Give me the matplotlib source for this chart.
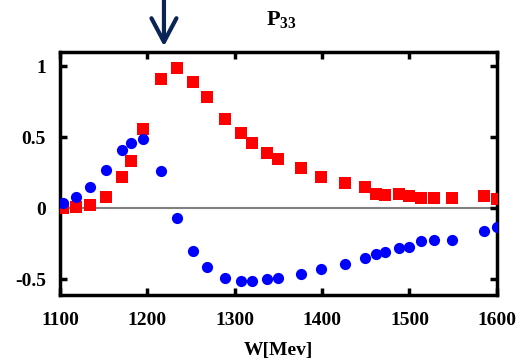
import matplotlib
matplotlib.use("Agg")
import matplotlib.pyplot as plt

W = [1103, 1118, 1134, 1153, 1171, 1181, 1195, 1216, 1234, 1252, 1268, 1289, 1307, 1320,
     1337, 1350, 1376, 1399, 1426, 1449, 1462, 1472, 1488, 1500, 1513, 1528, 1549, 1585, 1600]
red_vals = [0.00, 0.01, 0.02, 0.08, 0.22, 0.33, 0.56, 0.91, 0.99, 0.89, 0.78, 0.63, 0.53, 0.46,
            0.39, 0.35, 0.28, 0.22, 0.18, 0.15, 0.10, 0.095, 0.10, 0.085, 0.07, 0.075, 0.07, 0.085, 0.065]
blue_vals = [0.04, 0.08, 0.15, 0.27, 0.41, 0.46, 0.49, 0.26, -0.07, -0.30, -0.41, -0.49, -0.51, -0.51,
             -0.50, -0.49, -0.46, -0.43, -0.39, -0.35, -0.32, -0.31, -0.28, -0.27, -0.23, -0.22, -0.22, -0.16, -0.13]
xticks = [1100, 1200, 1300, 1400, 1500, 1600]
yticks = [-0.5, 0, 0.5, 1]
ytick_labels = ["-0.5", "0", "0.5", "1"]
arrow_W = 1219

plt.rcParams['font.family'] = ['Liberation Serif', 'DejaVu Serif']
plt.rcParams['mathtext.fontset'] = 'custom'
plt.rcParams['mathtext.rm'] = 'Liberation Serif:bold'
plt.rcParams['mathtext.bf'] = 'Liberation Serif:bold'

fig = plt.figure(figsize=(5.28, 3.61), dpi=100)
ax = fig.add_axes([0.1136, 0.183, 0.941 - 0.1136, 0.856 - 0.183])

ax.plot([1105, 1592], [0, 0], color='#808080', lw=1.5, zorder=1)
ax.scatter(W, red_vals, marker='s', s=70, color='#ff0000', linewidths=0, zorder=3)
ax.scatter(W, blue_vals, marker='o', s=65, color='#0000ff', linewidths=0, zorder=3)

ax.set_xlim(1100, 1600)
ax.set_ylim(-0.61, 1.10)
ax.set_xticks(xticks)
ax.set_yticks(yticks)
ax.set_yticklabels(ytick_labels)
for lab in ax.get_xticklabels() + ax.get_yticklabels():
    lab.set_fontweight('bold')
    lab.set_fontsize(14)
ax.tick_params(direction='in', length=5, width=2.5, top=True, right=True)
ax.tick_params(axis='x', pad=12)
ax.tick_params(axis='y', pad=10)
for sp in ax.spines.values():
    sp.set_linewidth(2.5)

ax.set_xlabel('W[Mev]', fontsize=14, fontweight='bold', labelpad=10)
fig.text(0.532, 0.945, r'$\mathbf{P_{33}}$', fontsize=16, ha='center', va='center')

ax.annotate('', xy=(arrow_W, 1.14), xytext=(arrow_W, 1.47), xycoords='data',
            annotation_clip=False,
            arrowprops=dict(arrowstyle='->,head_length=0.85,head_width=0.45',
                            mutation_scale=20,
                            color='#0a2456', lw=3, shrinkA=0, shrinkB=0))

fig.savefig('out.png', dpi=100)
